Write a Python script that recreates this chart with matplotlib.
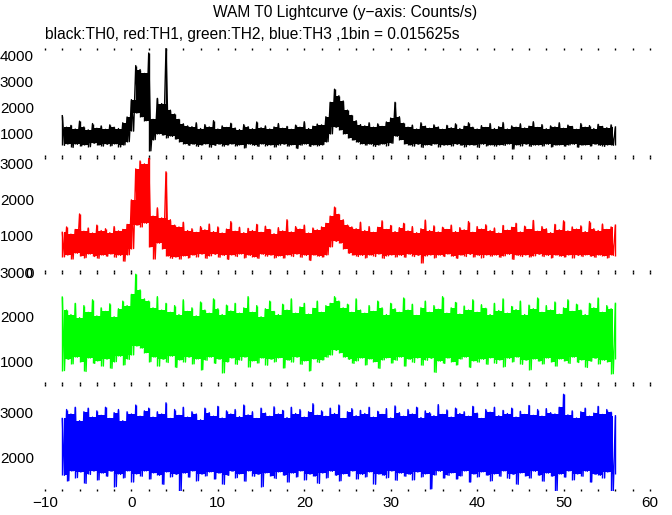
import numpy as np
import matplotlib
matplotlib.use("Agg")
import matplotlib.pyplot as plt
from matplotlib.ticker import MultipleLocator

plt.rcParams['font.family'] = ['Liberation Sans', 'DejaVu Sans']

# time grid of the envelope samples (s), 0.5 s apart, -8 .. 56
t_bin = np.arange(129) * 0.5 - 8

# upper / lower envelope of each channel (counts/s)
th0_hi = [1690, 1250, 1320, 1180, 1480, 1260, 1150, 1390, 1210, 1300,
          1170, 1340, 1250, 1200, 1420, 1640, 2300, 3600, 3450, 3300,
          4080, 1550, 2350, 2150, 4250, 1900, 1750, 1550, 1380, 1300,
          1270, 1420, 1200, 1350, 1260, 1500, 1180, 1300, 1240, 1400,
          1220, 1160, 1350, 1270, 1190, 1450, 1230, 1300, 1180, 1260,
          1390, 1210, 1280, 1170, 1330, 1250, 1460, 1200, 1290, 1370,
          1340, 1650, 2200, 2700, 2450, 2250, 1900, 1700, 1500, 1350,
          1300, 1420, 1250, 1380, 1280, 1450, 1600, 2200, 1650, 1400,
          1250, 1330, 1180, 1420, 1290, 1210, 1340, 1260, 1170, 1320,
          1230, 1380, 1200, 1290, 1420, 1250, 1180, 1310, 1240, 1390,
          1200, 1270, 1430, 1180, 1300, 1250, 1380, 1220, 1290, 1460,
          1240, 1350, 1190, 1300, 1260, 1420, 1210, 1330, 1280, 1170,
          1390, 1250, 1310, 1200, 1360, 1280, 1230, 1340, 1260]
th0_lo = [560, 620, 480, 600, 540, 590, 510, 640, 570, 530,
          600, 550, 620, 500, 580, 700, 1100, 1800, 1650, 1500,
          350, 780, 1000, 950, 850, 900, 800, 700, 620, 560,
          600, 520, 580, 620, 490, 560, 600, 530, 580, 610,
          540, 590, 470, 600, 560, 520, 610, 550, 580, 500,
          570, 600, 530, 590, 440, 570, 610, 520, 580, 550,
          590, 700, 1000, 1250, 1150, 1000, 850, 760, 680, 620,
          570, 600, 520, 580, 610, 550, 640, 900, 780, 620,
          570, 530, 600, 480, 580, 560, 610, 500, 570, 590,
          540, 600, 560, 510, 590, 570, 480, 600, 550, 580,
          530, 590, 560, 610, 420, 580, 540, 600, 520, 570,
          590, 540, 600, 510, 570, 590, 530, 580, 600, 490,
          570, 590, 540, 600, 560, 520, 590, 560, 580]

th1_hi = [1100, 1250, 1050, 1180, 1610, 1130, 1220, 1080, 1300, 1150,
          1200, 1090, 1260, 1140, 1180, 1320, 2000, 2860, 3080, 3000,
          3150, 1550, 1780, 1500, 2780, 1450, 1300, 1250, 1380, 1150,
          1200, 1100, 1260, 1170, 1330, 1120, 1250, 1080, 1190, 1400,
          1130, 1240, 1090, 1210, 1150, 1320, 1100, 1270, 1180, 1060,
          1230, 1140, 1450, 1110, 1260, 1190, 1300, 1080, 1220, 1170,
          1250, 1350, 1550, 1800, 1600, 1450, 1300, 1250, 1200, 1380,
          1150, 1260, 1100, 1240, 1420, 1180, 1290, 1120, 1230, 1350,
          1140, 1260, 1090, 1200, 1440, 1150, 1280, 1110, 1240, 1180,
          1300, 1120, 1230, 1170, 1400, 1100, 1260, 1190, 1310, 1150,
          1220, 1080, 1290, 1160, 1240, 1350, 1110, 1270, 1180, 1430,
          1130, 1260, 1200, 1090, 1320, 1170, 1420, 1140, 1250, 1190,
          1280, 1120, 1400, 1200, 1150, 1330, 1180, 1250, 1300]
th1_lo = [420, 480, 360, 520, 450, 400, 500, 430, 380, 470,
          440, 500, 410, 460, 300, 480, 650, 1300, 1250, 1350,
          700, 360, 800, 650, 440, 380, 420, 360, 450, 400,
          470, 420, 500, 380, 450, 490, 410, 460, 350, 480,
          430, 500, 400, 460, 420, 380, 490, 440, 470, 400,
          450, 390, 480, 430, 500, 410, 460, 320, 470, 440,
          420, 480, 700, 850, 800, 650, 520, 470, 430, 460,
          400, 470, 430, 500, 380, 450, 480, 420, 460, 410,
          490, 430, 460, 250, 450, 480, 400, 470, 430, 500,
          440, 380, 470, 430, 490, 420, 460, 400, 480, 440,
          470, 410, 450, 490, 350, 460, 430, 480, 420, 450,
          490, 430, 460, 400, 470, 440, 420, 480, 390, 460,
          430, 480, 440, 410, 470, 450, 400, 460, 440]

th2_hi = [2440, 2150, 2050, 2300, 1980, 2250, 2100, 2380, 2020, 2200,
          2120, 2290, 2000, 2180, 2350, 2250, 2500, 2950, 2600, 2400,
          2350, 2200, 2450, 2150, 2300, 2100, 2250, 2050, 2380, 2120,
          2200, 2020, 2330, 2150, 2080, 2400, 2180, 2050, 2260, 2130,
          2300, 2080, 2200, 2450, 2100, 2250, 2000, 2180, 2350, 2120,
          2050, 2280, 2150, 2400, 2080, 2220, 2300, 2060, 2190, 2350,
          2100, 2250, 2300, 2450, 2350, 2200, 2280, 2100, 2400, 2150,
          2080, 2250, 2120, 2350, 2200, 2050, 2300, 2180, 2100, 2420,
          2150, 2280, 2030, 2200, 2350, 2100, 2250, 2170, 2450, 2080,
          2200, 2320, 2060, 2240, 2150, 2380, 2100, 2270, 2190, 2050,
          2300, 2140, 2400, 2080, 2230, 2160, 2350, 2050, 2260, 2180,
          2420, 2100, 2250, 2150, 2330, 2060, 2200, 2380, 2120, 2280,
          2150, 2050, 2300, 2200, 2420, 2100, 2250, 2180, 2300]
th2_lo = [800, 1050, 950, 1100, 1000, 780, 1080, 960, 1020, 900,
          1060, 850, 1000, 1120, 930, 1050, 1150, 1350, 1300, 1200,
          1000, 1100, 900, 1050, 980, 1120, 870, 1040, 990, 1100,
          950, 1060, 820, 1030, 1100, 960, 1050, 750, 1000, 1080,
          940, 1030, 1100, 880, 1020, 970, 1080, 920, 1050, 1000,
          1090, 860, 1030, 990, 1100, 940, 1020, 800, 1060, 980,
          1040, 1100, 1150, 1250, 1200, 1100, 1050, 960, 1020, 1080,
          930, 1060, 1000, 850, 1040, 1090, 970, 1030, 1100, 900,
          1050, 980, 1090, 920, 1030, 1070, 760, 1010, 960, 1080,
          1000, 930, 1060, 1100, 870, 1020, 990, 1050, 940, 1090,
          960, 1040, 890, 1070, 1000, 1100, 940, 1030, 820, 1060,
          1010, 950, 1080, 1000, 900, 1060, 1020, 960, 1100, 980,
          1040, 870, 1010, 1070, 950, 1030, 1000, 730, 1050]

th3_hi = [2870, 3070, 2970, 3120, 2820, 3020, 3100, 2900, 3040, 2940,
          3120, 2870, 3000, 3070, 2820, 3020, 2970, 3170, 2920, 3040,
          3100, 2900, 3020, 2970, 3220, 2870, 3070, 2940, 3120, 2900,
          3020, 2970, 2840, 3100, 3000, 2920, 3140, 2880, 3040, 2970,
          3070, 2910, 3170, 2950, 3020, 2870, 3100, 2990, 2920, 3130,
          2970, 3050, 2890, 3120, 2980, 3070, 2900, 3020, 3200, 2940,
          3040, 2920, 3100, 2980, 3170, 2870, 3020, 3090, 2930, 3050,
          2980, 3120, 2900, 3030, 2960, 3090, 2880, 3150, 3000, 2920,
          3070, 2970, 3120, 2890, 3040, 3000, 2930, 3180, 2960, 3060,
          2900, 3100, 2980, 3020, 2920, 3140, 2990, 2870, 3070, 3010,
          3120, 2930, 3050, 2980, 3100, 2900, 3030, 2960, 3160, 2940,
          3070, 2920, 3090, 3000, 2970, 3120, 3410, 2950, 3040, 2880,
          3020, 3100, 2920, 2990, 3140, 2960, 3070, 3010, 2930]
th3_lo = [1600, 1480, 1700, 1550, 1680, 1420, 1620, 1700, 1500, 1650,
          1580, 1690, 1350, 1620, 1550, 1700, 1450, 1640, 1580, 1700,
          1520, 1660, 1600, 1400, 1680, 1570, 1620, 1250, 1650, 1560,
          1700, 1480, 1630, 1590, 1680, 1520, 1650, 1400, 1600, 1690,
          1550, 1640, 1470, 1700, 1580, 1620, 1350, 1660, 1590, 1530,
          1680, 1600, 1450, 1650, 1570, 1700, 1500, 1630, 1580, 1420,
          1660, 1550, 1690, 1600, 1480, 1640, 1580, 1700, 1520, 1620,
          1570, 1680, 1400, 1630, 1600, 1550, 1700, 1490, 1650, 1580,
          1620, 1500, 1680, 1570, 1640, 1300, 1610, 1690, 1540, 1600,
          1660, 1520, 1590, 1700, 1450, 1630, 1570, 1680, 1600, 1480,
          1640, 1580, 1700, 1530, 1620, 1400, 1660, 1590, 1540, 1690,
          1600, 1470, 1650, 1580, 1260, 1630, 1560, 1700, 1500, 1640,
          1580, 1690, 1450, 1620, 1600, 1540, 1680, 1250, 1620]

channels = [
    (th0_hi, th0_lo, 'black', (115, 4270), [1000, 2000, 3000, 4000]),
    (th1_hi, th1_lo, '#ff0000', (10, 3190), [0, 1000, 2000, 3000]),
    (th2_hi, th2_lo, '#00ff00', (500, 3000), [1000, 2000, 3000]),
    (th3_hi, th3_lo, '#0000ff', (1250, 3640), [2000, 3000]),
]

W, H = 672, 515
fig = plt.figure(figsize=(W / 100, H / 100), dpi=100)

# panel extents in pixels (top, bottom)
panels = [(48, 157), (157, 272), (272, 384), (384, 491)]
x0, x1 = 45, 650

t_mid = (t_bin[:-1] + t_bin[1:]) / 2

for (hi, lo, col, ylim, yt), (ptop, pbot) in zip(channels, panels):
    ax = fig.add_axes([x0 / W, 1 - pbot / H, (x1 - x0) / W, (pbot - ptop) / H])
    hi = np.array(hi)
    lo = np.array(lo)
    # solid core between neighbouring bins, jagged trace through the extremes
    core_hi = np.minimum(hi[:-1], hi[1:])
    core_lo = np.maximum(lo[:-1], lo[1:])
    ax.fill_between(t_mid, core_lo, core_hi, step='mid', color=col, lw=0)
    x = np.empty(2 * len(t_bin) - 1)
    y = np.empty(2 * len(t_bin) - 1)
    x[0::2] = t_bin
    x[1::2] = t_mid
    y[0::2] = hi
    y[1::2] = lo[:-1]
    ax.plot(x, y, color=col, lw=1.0)
    ax.vlines(t_bin, lo, hi, color=col, lw=1.0)
    ax.set_xlim(-10, 60)
    ax.set_ylim(*ylim)
    ax.set_yticks(yt)
    ax.set_xticks(np.arange(-10, 61, 10))
    ax.xaxis.set_minor_locator(MultipleLocator(2))
    for s in ax.spines.values():
        s.set_visible(False)
    ax.tick_params(axis='y', length=0, labelsize=11, pad=8)
    ax.tick_params(axis='x', which='both', direction='in', length=1.5,
                   width=1, top=True, bottom=True, labelsize=11)
    if ptop != panels[-1][0]:
        ax.tick_params(axis='x', labelbottom=False)
    ax.patch.set_alpha(0)

fig.text(345 / W, 1 - 13 / H, 'WAM T0 Lightcurve (y\u2212axis: Counts/s)',
         ha='center', va='center', fontsize=11.2)
fig.text(45 / W, 1 - 34 / H,
         'black:TH0, red:TH1, green:TH2, blue:TH3 ,1bin = 0.015625s',
         ha='left', va='center', fontsize=11.2)

fig.savefig('out.png', dpi=100)
